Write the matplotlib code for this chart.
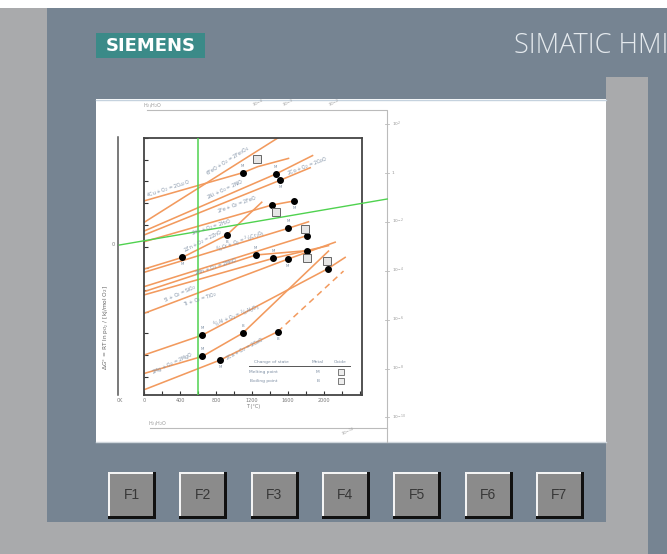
import matplotlib.pyplot as plt
from matplotlib.patches import Rectangle
from matplotlib.ticker import MultipleLocator

# Ellingham diagram on a SIMATIC HMI panel
# T in deg C, dG in kJ/mol O2
cu_T = [0, 1096, 1263, 1604]
cu_G = [-290, -160, -132, -94]
fe3o4_T = [0, 1485]
fe3o4_G = [-389, 0]
ni_T = [0, 1463, 1871]
ni_G = [-429, -166, -81]
co_T = [0, 1515, 1845]
co_G = [-447, -194, -137]
feo_T = [0, 1419, 1667]
feo_G = [-478, -309, -290]
zn_T = [0, 426, 919, 1307]
zn_G = [-604, -550, -447, -296]
h2o_T = [0, 1600, 1826]
h2o_G = [-619, -416, -386]
cr_T = [0, 1808]
cr_G = [-685, -450]
mn_T = [0, 1241, 1808]
mn_G = [-708, -539, -519]
si_T = [0, 1437, 2048]
si_G = [-723, -554, -496]
ti_T = [0, 1596, 2122]
ti_G = [-808, -558, -480]
al_T = [0, 648, 2041, 2233]
al_G = [-1000, -908, -602, -550]
mg_T = [0, 648, 1096, 2048]
mg_G = [-1085, -1006, -899, -521]
ca_T = [0, 845, 1485]
ca_G = [-1160, -1023, -892]
ca_gas_T = [1485, 2215]
ca_gas_G = [-892, -613]

# metal melting / boiling points (black dots)
dot_T = [1096, 1463, 1515, 1419, 1667, 426, 919, 1600, 1808, 1241, 1437,
         1596, 1808, 2041, 648, 648, 1096, 845, 1485]
dot_G = [-160, -166, -194, -309, -290, -550, -447, -416, -450, -539, -554,
         -558, -519, -602, -908, -1006, -899, -1023, -892]
dot_kind = ['M', 'M', 'M', '', 'M', 'M', 'B', 'M', '', 'M', 'M',
            'M', '', '', 'M', 'M', 'B', 'M', 'B']
dot_side = [1, 1, -1, 1, -1, -1, -1, 1, 1, 1, 1, -1, 1, 1, 1, 1, 1, -1, -1]

# oxide change of state (boxes)
box_T = [1259, 1467, 1782, 1808, 2030]
box_G = [-98, -343, -418, -554, -565]

rx_text = ['4Cu + O$_2$ = 2Cu$_2$O', '6FeO + O$_2$ = 2Fe$_3$O$_4$',
           '2Ni + O$_2$ = 2NiO', '2Co + O$_2$ = 2CoO', '2Fe + O$_2$ = 2FeO',
           '2H$_2$ + O$_2$ = 2H$_2$O', '2Zn + O$_2$ = 2ZnO',
           '$^4/_3$Cr + O$_2$ = $^2/_3$Cr$_2$O$_3$', '2Mn + O$_2$ = 2MnO',
           'Si + O$_2$ = SiO$_2$', 'Ti + O$_2$ = TiO$_2$',
           '$^4/_3$Al + O$_2$ = $^2/_3$Al$_2$O$_3$', '2Ca + O$_2$ = 2CaO',
           '2Mg + O$_2$ = 2MgO']
rx_T = [270, 930, 907, 1819, 1030, 752, 659, 1074, 796, 400, 622, 1030, 1122, 315]
rx_G = [-233, -104, -235, -129, -309, -409, -478, -478, -593, -716, -742, -819, -972, -1038]
rx_angle = [18, 32, 25, 21, 20, 18, 27, 20, 18, 24, 18, 22, 28, 25]

x_ticks = [0, 400, 800, 1200, 1600, 2000]
po2_labels = ['10$^{2}$', '1', '10$^{-2}$', '10$^{-4}$', '10$^{-6}$', '10$^{-8}$', '10$^{-10}$']
top_labels = ['10$^{-4}$', '10$^{-3}$', '10$^{-2}$']
button_labels = ['F1', 'F2', 'F3', 'F4', 'F5', 'F6', 'F7']

T_ZERO_K = -273
origin_G = -493
green_end_T, green_end_G = 2700, -281
green_T = 600

W, H = 667, 554
fig = plt.figure(figsize=(W / 100, H / 100), dpi=100)
fig.patch.set_facecolor('white')

# panel / bezel drawn in pixel coordinates
bg = fig.add_axes([0, 0, 1, 1])
bg.set_xlim(0, W)
bg.set_ylim(H, 0)
bg.axis('off')

panel = '#768492'
grey = '#a9aaac'
bg.add_patch(Rectangle((0, 8), 47, H - 8, color=grey, lw=0))
bg.add_patch(Rectangle((47, 8), W - 47, 514, color=panel, lw=0))
bg.add_patch(Rectangle((0, 522), 606, 32, color=grey, lw=0))
bg.add_patch(Rectangle((648, 8), 19, H - 8, color=panel, lw=0))
bg.add_patch(Rectangle((606, 77), 42, H - 77, color=grey, lw=0))
bg.add_patch(Rectangle((96, 99), 510, 343, color='white', lw=0))
bg.plot([96, 606], [99.5, 99.5], color='#c5d2de', lw=1)
bg.plot([96, 606], [442, 442], color='#cfd6dc', lw=1)

bg.add_patch(Rectangle((96, 33), 109, 25, color='#3b8a88', lw=0))
bg.text(150.5, 46, 'SIEMENS', color='white', fontsize=13, fontweight='bold',
        ha='center', va='center')
bg.text(514, 46, 'SIMATIC HMI', color='#e4e9ed', fontsize=19.5, family='Open Sans',
        fontweight='light', ha='left', va='center')

# function keys
for i, lab in enumerate(button_labels):
    x = 108 + i * 71.3
    bg.add_patch(Rectangle((x, 472), 48, 47, color='#111111', lw=0))
    bg.add_patch(Rectangle((x, 472), 45, 44, color='#f4f4f4', lw=0))
    bg.add_patch(Rectangle((x + 2, 474), 43, 42, color='#8b8b8b', lw=0))
    bg.text(x + 23.5, 495, lab, fontsize=10, color='#383838', family='Liberation Sans',
            ha='center', va='center')

# nomogram scales around the diagram
sc = '#bbbbbb'
bg.plot([118, 118], [137, 395], color='#555555', lw=1.1)
bg.text(113, 245, '0', fontsize=3.5, color='#777777', ha='center', va='center')
bg.text(120, 401, '0K', fontsize=3.5, color='#777777', ha='center', va='center')
bg.text(106, 327, r'$\Delta G°$ = RT ln p$_{O_2}$ / [kJ/mol O$_2$]', fontsize=4.2,
        color='#666666', rotation=90, ha='center', va='center')
bg.plot([147, 387, 387], [110, 110, 442], color=sc, lw=0.8)
bg.plot([150, 387], [428, 428], color=sc, lw=0.8)
bg.text(153, 106, 'H$_2$/H$_2$O', fontsize=3.5, color='#999999', ha='center', va='center')
bg.text(158, 424, 'H$_2$/H$_2$O', fontsize=3.5, color='#999999', ha='center', va='center')
for j, lab in enumerate(top_labels):
    xx = [258, 288, 334][j]
    bg.text(xx, 104, lab, fontsize=3.2, color='#999999', rotation=20, ha='center', va='center')
bg.text(348, 432, '10$^{-14}$', fontsize=3.2, color='#999999', rotation=20, ha='center', va='center')
for j, lab in enumerate(po2_labels):
    yy = 124 + j * 48.9
    bg.plot([385, 389], [yy, yy], color=sc, lw=0.6)
    bg.text(392, yy, lab, fontsize=3.2, color='#999999', ha='left', va='center')

# main diagram axes
L, T, R, B = 144, 138, 362, 395
ax = fig.add_axes([L / W, 1 - B / H, (R - L) / W, (B - T) / H])
ax.set_xlim(0, 2420)
ax.set_ylim(-1184, 0)

orange = '#f29a5e'
for xs, ys in [(cu_T, cu_G), (fe3o4_T, fe3o4_G), (ni_T, ni_G), (co_T, co_G),
               (feo_T, feo_G), (zn_T, zn_G), (h2o_T, h2o_G), (cr_T, cr_G),
               (mn_T, mn_G), (si_T, si_G), (ti_T, ti_G), (al_T, al_G),
               (mg_T, mg_G), (ca_T, ca_G)]:
    ax.plot(xs, ys, color=orange, lw=1.15, zorder=2)
ax.plot(ca_gas_T, ca_gas_G, color=orange, lw=1.1, ls=(0, (4, 3)), zorder=2)

green = '#4fd24f'
ax.axvline(green_T, color=green, lw=1.1, zorder=3)
ax.plot([T_ZERO_K, green_end_T], [origin_G, green_end_G], color=green, lw=1.0,
        clip_on=False, zorder=3)

ax.plot(dot_T, dot_G, 'o', color='black', ms=4, zorder=5)
ax.plot(box_T, box_G, 's', ms=6, mfc='#e6e6e6', mec='#666666', mew=0.7, zorder=5)
for t, g, k, s in zip(dot_T, dot_G, dot_kind, dot_side):
    if k:
        ax.annotate(k, (t, g), xytext=(0, 5 * s), textcoords='offset points',
                    fontsize=2.8, color='#7d8ea3', ha='center', va='center')

for txt, t, g, a in zip(rx_text, rx_T, rx_G, rx_angle):
    ax.text(t, g, txt, fontsize=3.3, color='#7d8ea3', rotation=a,
            ha='center', va='center', rotation_mode='anchor', zorder=4)

# change-of-state key
kc = '#7d8ea3'
ax.text(0.583, 0.13, 'Change of state', transform=ax.transAxes, fontsize=3.2, color=kc, ha='center', va='center')
ax.text(0.798, 0.13, 'Metal', transform=ax.transAxes, fontsize=3.2, color=kc, ha='center', va='center')
ax.text(0.900, 0.13, 'Oxide', transform=ax.transAxes, fontsize=3.2, color=kc, ha='center', va='center')
ax.plot([0.482, 0.946], [0.114, 0.114], transform=ax.transAxes, color='#555555', lw=0.7)
ax.text(0.548, 0.091, 'Melting point', transform=ax.transAxes, fontsize=3.2, color=kc, ha='center', va='center')
ax.text(0.548, 0.054, 'Boiling point', transform=ax.transAxes, fontsize=3.2, color=kc, ha='center', va='center')
ax.text(0.798, 0.091, 'M', transform=ax.transAxes, fontsize=3.2, color=kc, ha='center', va='center')
ax.text(0.798, 0.054, 'B', transform=ax.transAxes, fontsize=3.2, color=kc, ha='center', va='center')
ax.plot([0.905, 0.905], [0.091, 0.054], 's', transform=ax.transAxes, ms=5,
        mfc='#eeeeee', mec='#666666', mew=0.6)

ax.set_xticks(x_ticks)
ax.set_xticklabels([str(v) for v in x_ticks])
ax.xaxis.set_minor_locator(MultipleLocator(200))
ax.yaxis.set_major_locator(MultipleLocator(100))
ax.set_yticklabels([])
ax.tick_params(which='both', direction='in', length=3, width=0.8, color='#333333',
               labelsize=3.5, labelcolor='#777777', pad=2)
ax.set_xlabel('T (°C)', fontsize=3.5, color='#777777', labelpad=1)
for sp in ax.spines.values():
    sp.set_color('#444444')
    sp.set_linewidth(1.3)

fig.savefig('out.png', dpi=100)
